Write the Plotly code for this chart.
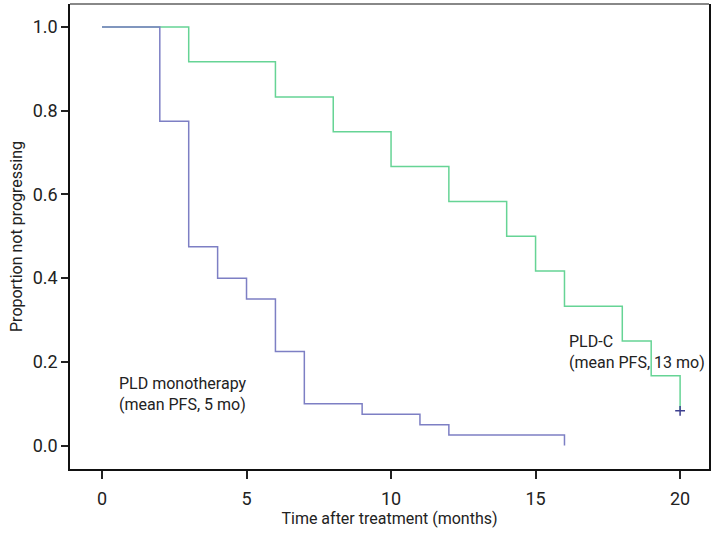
import plotly.graph_objects as go

# PLD monotherapy (Kaplan-Meier steps)
mono_t = [0, 2, 3, 4, 5, 6, 7, 9, 11, 12, 16]
mono_s = [1.0, 0.775, 0.475, 0.40, 0.35, 0.225, 0.10, 0.075, 0.05, 0.025, 0.0]

# PLD-C
plc_t = [0, 3, 6, 8, 10, 12, 14, 15, 16, 18, 19, 20]
plc_s = [1.0, 0.917, 0.833, 0.75, 0.667, 0.583, 0.5, 0.417, 0.333, 0.25, 0.167, 0.083]

# censored point
cens_t = [20]
cens_s = [0.083]

x_ticks = [0, 5, 10, 15, 20]
y_ticks = [0.0, 0.2, 0.4, 0.6, 0.8, 1.0]
y_tick_labels = ["0.0", "0.2", "0.4", "0.6", "0.8", "1.0"]

FONT = "Roboto, 'Open Sans', sans-serif"
BLUE = "#7d7fc4"
GREEN = "#66d495"

fig = go.Figure()
fig.add_trace(go.Scatter(x=plc_t, y=plc_s, mode="lines", line=dict(shape="hv", color=GREEN, width=1.5),
                         showlegend=False, hoverinfo="skip"))
fig.add_trace(go.Scatter(x=mono_t, y=mono_s, mode="lines", line=dict(shape="hv", color=BLUE, width=1.5),
                         showlegend=False, hoverinfo="skip"))
fig.add_trace(go.Scatter(x=cens_t, y=cens_s, mode="markers",
                         marker=dict(symbol="cross-thin", size=7, line=dict(color="#3c3f8f", width=1.5)),
                         showlegend=False, hoverinfo="skip"))

fig.add_annotation(x=0.52, y=0.123, xref="x", yref="y", text="PLD monotherapy<br>(mean PFS, 5 mo)",
                   showarrow=False, xanchor="left", yanchor="middle", align="left",
                   font=dict(family=FONT, size=16, color="#222"))
fig.add_annotation(x=16.1, y=0.223, xref="x", yref="y", text="PLD-C<br>(mean PFS, 13 mo)",
                   showarrow=False, xanchor="left", yanchor="middle", align="left",
                   font=dict(family=FONT, size=16, color="#222"))

# top border (gray)
fig.add_shape(type="line", xref="paper", yref="paper", x0=0, x1=1, y0=1, y1=1,
              line=dict(color="#888888", width=2))

fig.update_layout(
    width=720, height=538,
    margin=dict(l=70, r=11, t=4, b=69),
    paper_bgcolor="white", plot_bgcolor="white",
    font=dict(family=FONT, size=16, color="#222"),
    xaxis=dict(range=[-1.107, 21.0], tickvals=x_ticks, ticks="outside", ticklen=8, tickwidth=1.5,
               tickcolor="#222", showgrid=False, zeroline=False, showline=True, linecolor="#111",
               linewidth=1.5, ticklabelstandoff=5, tickfont=dict(size=18),
               title=dict(text="Time after treatment (months)", standoff=0, font=dict(size=16))),
    yaxis=dict(range=[-0.056, 1.055], tickvals=y_ticks, ticktext=y_tick_labels, ticks="outside",
               ticklen=7, tickwidth=1.5, tickcolor="#222", showgrid=False, zeroline=False,
               showline=True, linecolor="#111", linewidth=1.5, mirror=True, tickfont=dict(size=18),
               title=dict(text="Proportion not progressing", standoff=6, font=dict(size=16))),
)

fig.write_html("out.html", config={"displayModeBar": False},
               post_script="document.body.style.margin='0px';")
